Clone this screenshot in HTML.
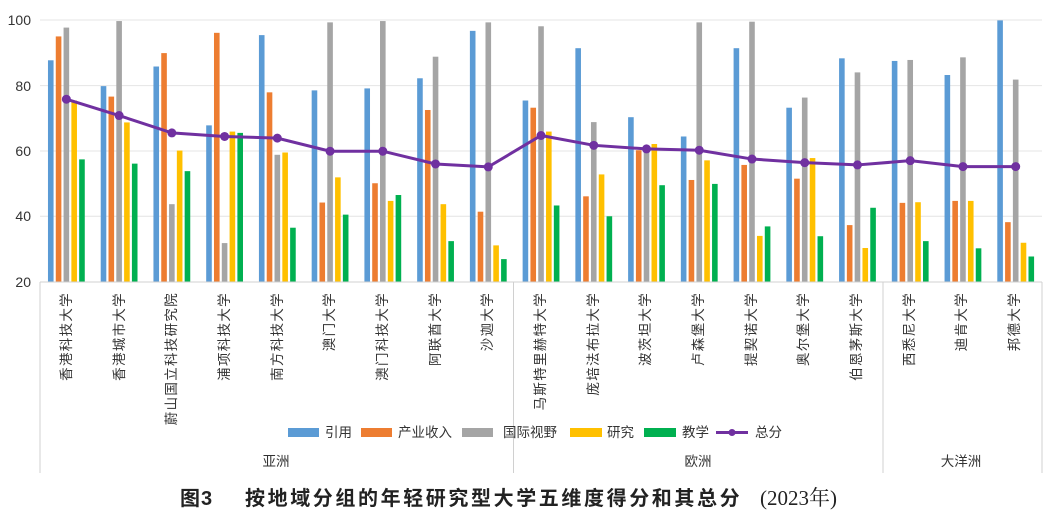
<!DOCTYPE html>
<html><head><meta charset="utf-8"><style>
html,body{margin:0;padding:0;background:#fff;}
svg{display:block;font-family:"Liberation Sans","Noto Sans CJK SC",sans-serif;}
</style></head><body>
<svg id="s" width="1054" height="526" viewBox="0 0 1054 526" xmlns="http://www.w3.org/2000/svg">
<g stroke="#e4e4e4" stroke-width="1">
<line x1="40" y1="20" x2="1042" y2="20"/>
<line x1="40" y1="85.6" x2="1042" y2="85.6"/>
<line x1="40" y1="151" x2="1042" y2="151"/>
<line x1="40" y1="216.3" x2="1042" y2="216.3"/>
</g>
<g fill="#333" font-size="14" text-anchor="end">
<text x="31" y="25">100</text><text x="31" y="91">80</text><text x="31" y="156">60</text><text x="31" y="221">40</text><text x="31" y="287">20</text>
</g>
<g id="bars"></g>
<g stroke="#d0d0d0" stroke-width="1">
<line x1="40" y1="282" x2="1042" y2="282"/>
<line x1="40" y1="282" x2="40" y2="473"/>
<line x1="513.5" y1="282" x2="513.5" y2="473"/>
<line x1="883" y1="282" x2="883" y2="473"/>
<line x1="1042" y1="282" x2="1042" y2="473"/>
</g>
<g id="line"></g>
<g fill="#333" font-size="13.5" letter-spacing="1.3" text-anchor="end">
<text transform="translate(71,292) rotate(-90)">香港科技大学</text>
<text transform="translate(124,292) rotate(-90)">香港城市大学</text>
<text transform="translate(176,292) rotate(-90)">蔚山国立科技研究院</text>
<text transform="translate(229,292) rotate(-90)">浦项科技大学</text>
<text transform="translate(282,292) rotate(-90)">南方科技大学</text>
<text transform="translate(334,292) rotate(-90)">澳门大学</text>
<text transform="translate(387,292) rotate(-90)">澳门科技大学</text>
<text transform="translate(440,292) rotate(-90)">阿联酋大学</text>
<text transform="translate(492,292) rotate(-90)">沙迦大学</text>
<text transform="translate(545,292) rotate(-90)">马斯特里赫特大学</text>
<text transform="translate(598,292) rotate(-90)">庞培法布拉大学</text>
<text transform="translate(650,292) rotate(-90)">波茨坦大学</text>
<text transform="translate(703,292) rotate(-90)">卢森堡大学</text>
<text transform="translate(756,292) rotate(-90)">提契诺大学</text>
<text transform="translate(808,292) rotate(-90)">奥尔堡大学</text>
<text transform="translate(861,292) rotate(-90)">伯恩茅斯大学</text>
<text transform="translate(914,292) rotate(-90)">西悉尼大学</text>
<text transform="translate(966,292) rotate(-90)">迪肯大学</text>
<text transform="translate(1019,292) rotate(-90)">邦德大学</text>
</g>
<g font-size="13.5" fill="#333">
<rect x="288" y="428" width="31" height="9" fill="#5b9bd5"/><text x="325" y="437">引用</text>
<rect x="361" y="428" width="31" height="9" fill="#ed7d31"/><text x="398" y="437">产业收入</text>
<rect x="462" y="428" width="31" height="9" fill="#a5a5a5"/><text x="503" y="437">国际视野</text>
<rect x="570" y="428" width="32" height="9" fill="#ffc000"/><text x="607" y="437">研究</text>
<rect x="644" y="428" width="32" height="9" fill="#00b050"/><text x="682" y="437">教学</text>
<line x1="716" y1="432.5" x2="748" y2="432.5" stroke="#7030a0" stroke-width="3"/><circle cx="732" cy="432.5" r="3.5" fill="#7030a0"/><text x="755" y="437">总分</text>
<text x="276" y="466" text-anchor="middle">亚洲</text>
<text x="698" y="466" text-anchor="middle">欧洲</text>
<text x="961" y="466" text-anchor="middle">大洋洲</text>
</g>
<g fill="#222" font-size="20" font-weight="bold">
<text x="180" y="505" letter-spacing="1">图3</text>
<text x="245" y="505" letter-spacing="2.6">按地域分组的年轻研究型大学五维度得分和其总分</text>
<text x="760" y="505" font-weight="normal" font-family="Liberation Serif,Noto Serif CJK SC,serif" font-size="21">(2023年)</text>
</g>
</svg>
<script>
var d=[[87.8,95.1,97.8,75.5,57.5,75.9],[79.9,76.7,99.8,68.8,56.2,70.9],[85.9,90,43.8,60.2,53.9,65.6],[67.9,96.2,31.9,66,65.6,64.5],[95.5,78,58.9,59.6,36.6,64],[78.6,44.3,99.4,52,40.6,60],[79.2,50.2,99.8,44.8,46.6,60],[82.3,72.6,88.9,43.8,32.5,56.1],[96.8,41.5,99.4,31.2,27,55.2],[75.5,73.3,98.2,66,43.4,64.8],[91.5,46.2,68.9,52.9,40.1,61.8],[70.4,60.3,61.5,62.2,49.6,60.7],[64.5,51.2,99.4,57.2,50,60.3],[91.5,55.8,99.6,34.1,37,57.6],[73.3,51.6,76.4,57.9,34,56.5],[88.4,37.4,84.1,30.4,42.7,55.8],[87.6,44.2,87.9,44.4,32.5,57.1],[83.3,44.8,88.7,44.8,30.3,55.3],[100,38.3,81.9,32,27.8,55.3]];
var c=["#5b9bd5","#ed7d31","#a5a5a5","#ffc000","#00b050"];
var ns="http://www.w3.org/2000/svg";function Y(v){return 282-(v-20)*3.27;}
var b=document.getElementById("bars"),l=document.getElementById("line"),pts=[];
for(var i=0;i<19;i++){var cx=40+52.74*(i+0.5);
for(var k=0;k<5;k++){var r=document.createElementNS(ns,"rect");var x=cx+(k-2)*7.8-2.8;
r.setAttribute("x",x);r.setAttribute("y",Y(d[i][k]));r.setAttribute("width",5.6);r.setAttribute("height",282-Y(d[i][k]));r.setAttribute("fill",c[k]);b.appendChild(r);}
pts.push(cx+","+Y(d[i][5]));}
var p=document.createElementNS(ns,"polyline");p.setAttribute("points",pts.join(" "));p.setAttribute("fill","none");p.setAttribute("stroke","#7030a0");p.setAttribute("stroke-width","3");l.appendChild(p);
pts.forEach(function(s){var a=s.split(",");var q=document.createElementNS(ns,"circle");q.setAttribute("cx",a[0]);q.setAttribute("cy",a[1]);q.setAttribute("r",4.5);q.setAttribute("fill","#7030a0");l.appendChild(q);});
</script>
</body></html>
